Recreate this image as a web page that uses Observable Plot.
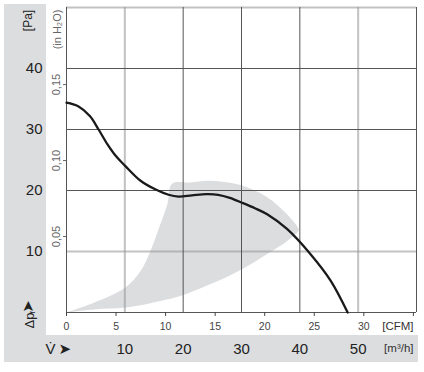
<!DOCTYPE html>
<html>
<head>
<meta charset="utf-8">
<script src="https://cdn.jsdelivr.net/npm/d3@7"></script>
<script src="https://cdn.jsdelivr.net/npm/@observablehq/plot@0.6"></script>
<style>
  html, body { margin: 0; padding: 0; background: #fff; }
  #wrap { position: relative; width: 424px; height: 372px; overflow: hidden; }
  .band { position: absolute; background: #dcdddf; }
  #chart { position: absolute; left: 0; top: 0; }
</style>
</head>
<body>
<div id="wrap">
  <div class="band" style="left:4px;top:4px;width:42px;height:358px;"></div>
  <div class="band" style="left:4px;top:335px;width:414px;height:27px;"></div>
  <div id="chart"></div>
</div>
<script>
// ---- data (flow in m³/h, pressure in Pa) ----
const curveFlow = [0, 2, 4, 5.5, 7, 8.5, 10.1, 12.7, 15.2, 17.5, 19.2, 21.5, 24, 26, 28, 30.1, 32.3, 34.4, 37.8, 41.8, 45.3, 48.2];
const curvePa   = [34.4, 33.8, 32.2, 30.0, 27.6, 25.6, 24.0, 21.6, 20.2, 19.3, 19.0, 19.2, 19.4, 19.3, 18.8, 18.0, 17.1, 16.1, 13.7, 9.6, 5.2, 0];

const regionFlow = [0, 4.7, 10.1, 12.7, 14.4, 16.1, 17.3, 18.1, 21.3, 24.1, 27, 30.1, 34.4, 37.8, 39.8,
                    39.8, 37.8, 34.4, 30.1, 25.3, 19.5, 16.1, 10.1, 4.7, 0];
const regionPa   = [0, 1.6, 4.1, 6.8, 10.1, 14.5, 17.8, 21.1, 21.3, 21.6, 21.4, 20.8, 18.9, 16.1, 13.7,
                    13.4, 11.7, 9.6, 7.1, 4.9, 2.7, 1.9, 0.8, 0.5, 0];

const m3Ticks = [10, 20, 30, 40, 50];
const cfmTicks = [0, 5, 10, 15, 20, 25, 30, 35];
const cfmLabelMax = 30;
const paTicks = [10, 20, 30, 40];
const inH2OTicks = [0.05, 0.10, 0.15];
const gridDarkX = [20, 30, 40, 60];
const gridLightX = [10, 50];
const gridDarkY = [20, 30, 40];
const gridLightY = [10, 50];

const M3_PER_CFM = 1.699;
const PA_PER_INH2O = 249.09;

const curve = curveFlow.map((f, i) => ({flow: f, pa: curvePa[i]}));
const region = regionFlow.map((f, i) => ({flow: f, pa: regionPa[i]}));

const dark = "#555";
const light = "#9a9a9a";
const mid = {textAnchor: "middle", lineAnchor: "middle"};

const chart = Plot.plot({
  width: 424,
  height: 372,
  marginLeft: 66,
  marginRight: 8,
  marginTop: 7,
  marginBottom: 60,
  x: {domain: [0, 60]},
  y: {domain: [0, 50]},
  style: {background: "transparent", fontFamily: "'Liberation Sans', Arial, Helvetica, sans-serif", overflow: "visible"},
  marks: [
    Plot.line(region, {x: "flow", y: "pa", fill: "#dcdddf", stroke: "none", curve: "catmull-rom"}),
    Plot.ruleX(gridLightX, {stroke: light, strokeOpacity: 0.6, strokeWidth: 2}),
    Plot.ruleY(gridLightY, {stroke: light, strokeOpacity: 0.6, strokeWidth: 2}),
    Plot.ruleX(gridDarkX, {stroke: dark, strokeWidth: 1}),
    Plot.ruleY(gridDarkY, {stroke: dark, strokeWidth: 1}),
    Plot.ruleX([0], {stroke: dark, strokeWidth: 1}),
    Plot.ruleY([0], {stroke: dark, strokeWidth: 1}),
    Plot.line(curve, {x: "flow", y: "pa", stroke: "#1a1a1a", strokeWidth: 2.3, curve: "catmull-rom"}),
    // m³/h axis (in the grey band)
    Plot.axisX(m3Ticks, {anchor: "bottom", tickSize: 0, tickPadding: 31, fontSize: 15, color: "#222", label: null}),
    // CFM axis
    Plot.axisX(cfmTicks.map(c => c * M3_PER_CFM), {
      anchor: "bottom", tickSize: 4, tickPadding: 6, fontSize: 10.5, color: "#444", label: null,
      tickFormat: d => { const c = Math.round(d / M3_PER_CFM); return c <= cfmLabelMax ? String(c) : ""; }
    }),
    // Pa axis
    Plot.axisY(paTicks, {anchor: "left", tickSize: 0, tickPadding: 24, fontSize: 15, color: "#222", label: null}),
    // in H2O ticks + labels
    Plot.axisY(inH2OTicks.map(v => v * PA_PER_INH2O), {anchor: "left", tickSize: 3, tickFormat: () => "", color: "#666", label: null}),
    Plot.text(inH2OTicks, {y: d => d * PA_PER_INH2O, text: d => d3.format(".2f")(d).replace(".", ","), frameAnchor: "left", dx: -10.5, rotate: -90, fontSize: 11, fill: "#666", ...mid}),
    Plot.text(["(in H\u2082O)"], {frameAnchor: "top-left", dx: -9.5, dy: 22, rotate: -90, fontSize: 11, fill: "#666", text: d => d, ...mid}),
    Plot.text(["[Pa]"], {frameAnchor: "top-left", dx: -38, dy: 13, rotate: -90, fontSize: 12, fill: "#222", text: d => d, ...mid}),
    // Δpf ➤ (rotated)
    Plot.text(["\u0394p"], {frameAnchor: "bottom-left", dx: -37, dy: 16, rotate: -90, fontSize: 13, fill: "#222", text: d => d, textAnchor: "start", lineAnchor: "middle"}),
    Plot.text(["f"], {frameAnchor: "bottom-left", dx: -34, dy: 1, rotate: -90, fontSize: 8, fill: "#222", text: d => d, textAnchor: "start", lineAnchor: "middle"}),
    Plot.text(["\u27A4"], {frameAnchor: "bottom-left", dx: -38, dy: -6, rotate: -90, fontSize: 15, fill: "#222", text: d => d, fontFamily: "DejaVu Sans", ...mid}),
    // V̇ ➤
    Plot.text(["V\u0307"], {frameAnchor: "bottom-left", dx: -21, dy: 37, fontSize: 15, fill: "#222", text: d => d, textAnchor: "start", lineAnchor: "middle"}),
    Plot.text(["\u27A4"], {frameAnchor: "bottom-left", dx: -8, dy: 37, fontSize: 15, fill: "#222", text: d => d, fontFamily: "DejaVu Sans", textAnchor: "start", lineAnchor: "middle"}),
    // unit labels
    Plot.text(["[CFM]"], {frameAnchor: "bottom-right", dx: -3, dy: 13.5, fontSize: 11.5, fill: "#333", text: d => d, textAnchor: "end", lineAnchor: "middle"}),
    Plot.text(["[m\u00B3/h]"], {frameAnchor: "bottom-right", dx: -3, dy: 36, fontSize: 11.5, fill: "#333", text: d => d, textAnchor: "end", lineAnchor: "middle"})
  ]
});
document.getElementById("chart").appendChild(chart);
</script>
</body>
</html>
